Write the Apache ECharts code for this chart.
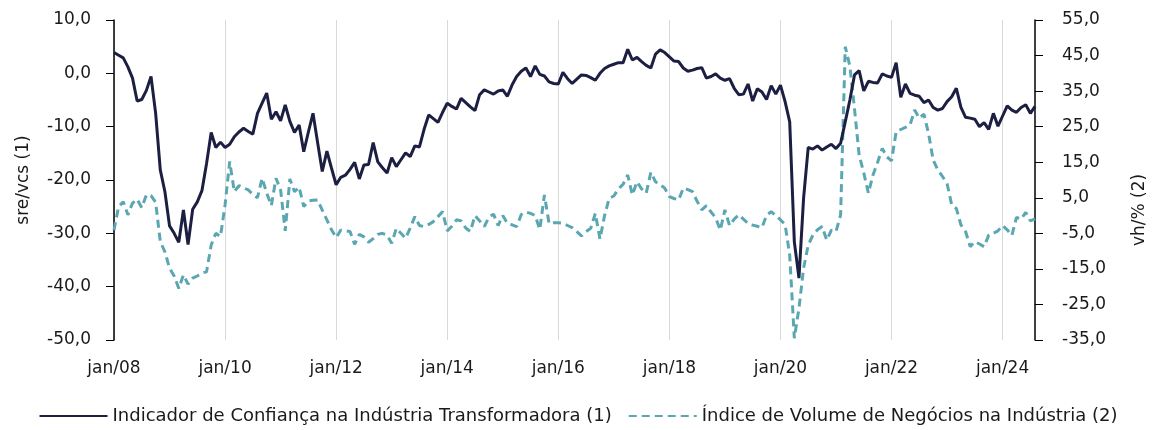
<!DOCTYPE html>
<html>
<head>
<meta charset="utf-8">
<script src="https://cdn.jsdelivr.net/npm/echarts@6/dist/echarts.min.js"></script>
<style>
  html, body { margin: 0; padding: 0; background: #fff; }
  #chart { width: 1156px; height: 430px; }
</style>
</head>
<body>
<div id="chart"></div>
<script>
// meses (rótulos do eixo x)
const monthNames = ["jan", "fev", "mar", "abr", "mai", "jun", "jul", "ago", "set", "out", "nov", "dez"];
const firstYear = 2008;
const nMonths = 200; // jan/08 .. ago/24

const leftTicks = [-50, -40, -30, -20, -10, 0, 10];
const rightTicks = [-35, -25, -15, -5, 5, 15, 25, 35, 45, 55];

const seriesNames = [
  "Indicador de Confiança na Indústria Transformadora (1)",
  "Índice de Volume de Negócios na Indústria (2)"
];

// (1) sre/vcs
const confianca = [
  3.9, 3.4, 2.9, 1.2, -0.9, -5.2, -4.9, -3.2, -0.6, -7.5,
  -18.1, -22.2, -28.6, -30.0, -31.7, -25.6, -32.1, -25.5, -24.1, -22.0,
  -16.9, -11.1, -13.9, -12.9, -13.9, -13.3, -11.9, -11.0, -10.3, -10.9,
  -11.4, -7.5, -5.6, -3.7, -8.6, -7.2, -8.9, -5.9, -9.0, -11.1,
  -9.7, -14.7, -11.0, -7.5, -13.0, -18.4, -14.6, -17.8, -20.9, -19.5,
  -19.1, -18.0, -16.7, -19.8, -17.2, -17.1, -13.0, -16.6, -17.7, -18.7,
  -15.8, -17.5, -16.2, -14.9, -15.6, -13.6, -13.8, -10.5, -7.8, -8.5,
  -9.2, -7.3, -5.6, -6.2, -6.7, -4.7, -5.5, -6.3, -7.0, -4.0,
  -3.1, -3.5, -3.9, -3.3, -3.1, -4.3, -2.2, -0.6, 0.4, 1.0,
  -0.6, 1.4, -0.2, -0.5, -1.6, -1.9, -2.0, 0.2, -1.0, -1.9,
  -1.1, -0.3, -0.4, -0.8, -1.3, 0.0, 0.9, 1.4, 1.7, 2.0,
  2.0, 4.5, 2.5, 3.0, 2.2, 1.5, 1.0, 3.6, 4.4, 3.9,
  3.1, 2.3, 2.2, 1.0, 0.4, 0.6, 0.9, 1.05, -0.9, -0.6,
  -0.1, -0.9, -1.3, -1.0, -2.8, -4.0, -3.9, -2.0, -5.2, -2.9,
  -3.5, -4.9, -2.3, -3.9, -2.2, -5.3, -9.1, -31.6, -38.4, -23.4,
  -13.9, -14.2, -13.6, -14.4, -13.8, -13.3, -14.1, -13.1, -9.1, -5.0,
  -0.3, 0.5, -3.3, -1.5, -1.7, -1.8, -0.1, -0.5, -0.75, 2.0,
  -4.5, -2.0, -3.75, -4.1, -4.3, -5.5, -5.0, -6.4, -6.9, -6.6,
  -5.3, -4.4, -2.8, -6.4, -8.25, -8.4, -8.6, -10.0, -9.25, -10.5,
  -7.5, -9.9, -8.0, -6.1, -6.9, -7.3, -6.4, -5.9, -7.5, -6.2
];

// (2) vh/%
const volume = [
  -4.1, 2.5, 3.9, 0.2, 3.5, 4.6, 2.2, 5.8, 5.6, 3.7,
  -7.3, -10.2, -14.8, -17.0, -20.5, -16.7, -19.3, -17.6, -17.0, -16.2,
  -15.8, -8.3, -5.0, -5.9, 3.0, 15.2, 6.7, 8.4, 7.8, 7.2,
  6.0, 5.0, 10.5, 6.3, 2.8, 10.5, 7.2, -4.3, 10.3, 6.7,
  8.0, 2.5, 4.1, 4.3, 4.4, 1.5, -1.2, -4.0, -6.2, -4.1,
  -4.3, -4.5, -8.1, -5.3, -6.0, -7.5, -6.5, -5.3, -5.0, -5.5,
  -7.8, -3.6, -5.0, -6.4, -3.5, -0.3, -2.8, -3.1, -2.5, -1.7,
  -0.3, 1.1, -4.3, -3.0, -1.2, -1.5, -3.5, -4.5, 0.0, -1.5,
  -3.1, -0.5, 0.4, -2.8, 0.0, -2.2, -2.6, -3.1, 0.3, 1.0,
  0.6, 0.0, -3.9, 5.8, -2.2, -2.0, -2.0, -2.2, -2.8, -3.4,
  -4.5, -5.7, -4.5, -3.6, 0.6, -6.6, 0.0, 4.9, 5.5, 7.5,
  8.8, 11.4, 5.8, 9.5, 7.5, 6.3, 12.2, 9.5, 8.7, 7.7,
  5.3, 4.8, 4.4, 7.7, 7.3, 6.7, 4.0, 1.6, 2.8, 1.0,
  -0.6, -4.1, 1.6, -2.8, -1.0, 0.2, -1.0, -2.2, -2.7, -3.0,
  -3.4, 0.05, 1.1, 0.0, -1.2, -2.5, -11.1, -34.5, -26.1, -14.8,
  -8.3, -5.5, -4.0, -3.1, -6.9, -4.1, -4.5, 0.2, 47.5, 42.0,
  30.0, 17.0, 12.0, 6.3, 11.4, 15.0, 18.9, 16.5, 15.4, 23.6,
  24.2, 24.8, 25.5, 29.7, 27.4, 28.5, 23.1, 15.6, 12.8, 11.0,
  9.0, 3.0, 2.0, -2.65, -4.5, -8.75, -7.35, -8.0, -8.75, -5.5,
  -5.0, -4.3, -2.8, -4.0, -5.6, -0.5, -1.0, 0.9, -1.5, -0.95
];

const meses = [];
for (let i = 0; i < nMonths; i++) {
  const y = firstYear + Math.floor(i / 12);
  meses.push(monthNames[i % 12] + "/" + String(y).slice(2));
}

const fmt = (v) => v.toFixed(1).replace(".", ",");
const fontFam = "DejaVu Sans";
const txt = "#1a1a1a";

const chart = echarts.init(document.getElementById("chart"));
chart.setOption({
  animation: false,
  textStyle: { fontFamily: fontFam },
  grid: { left: 114, right: 113, top: 20, bottom: 90, containLabel: false },
  legend: {
    bottom: 0,
    left: "center",
    itemWidth: 68,
    itemHeight: 12,
    itemGap: 16,
    itemStyle: { opacity: 0 },
    textStyle: { fontFamily: fontFam, fontSize: 18, color: txt },
    data: seriesNames
  },
  xAxis: {
    type: "category",
    data: meses,
    boundaryGap: false,
    axisLine: { show: false },
    axisTick: { show: false },
    axisLabel: { interval: 23, margin: 20, fontSize: 17, color: txt },
    splitLine: { show: true, interval: 23, lineStyle: { color: "#d9d9d9", width: 1 } }
  },
  yAxis: [
    {
      type: "value",
      min: -50,
      max: 10,
      interval: 10,
      name: "sre/vcs (1)",
      nameLocation: "middle",
      nameRotate: 90,
      nameGap: 82,
      nameTextStyle: { fontSize: 17, color: txt },
      axisLine: { show: true, lineStyle: { color: "#000", width: 1.5 } },
      axisTick: { show: true, length: 8, lineStyle: { color: "#000" }, customValues: leftTicks },
      axisLabel: { margin: 23, fontSize: 17, color: txt, formatter: fmt, customValues: leftTicks },
      splitLine: { show: false }
    },
    {
      type: "value",
      min: -35,
      max: 55,
      name: "vh/% (2)",
      nameLocation: "middle",
      nameRotate: 90,
      nameGap: 96,
      nameTextStyle: { fontSize: 17, color: txt, padding: [0, 60, 0, 0] },
      axisLine: { show: true, lineStyle: { color: "#000", width: 1.5 } },
      axisTick: { show: true, length: 8, lineStyle: { color: "#000" }, customValues: rightTicks },
      axisLabel: { margin: 27, fontSize: 17, color: txt, formatter: fmt, customValues: rightTicks },
      splitLine: { show: false }
    }
  ],
  series: [
    {
      name: seriesNames[0],
      type: "line",
      yAxisIndex: 0,
      data: confianca,
      symbol: "none",
      lineStyle: { color: "#1c1f42", width: 3 },
      itemStyle: { color: "#1c1f42" },
      z: 3
    },
    {
      name: seriesNames[1],
      type: "line",
      yAxisIndex: 1,
      data: volume,
      symbol: "none",
      lineStyle: { color: "#5aa7b2", width: 3, type: [8, 5] },
      itemStyle: { color: "#5aa7b2" },
      z: 2
    }
  ]
});
</script>
</body>
</html>
